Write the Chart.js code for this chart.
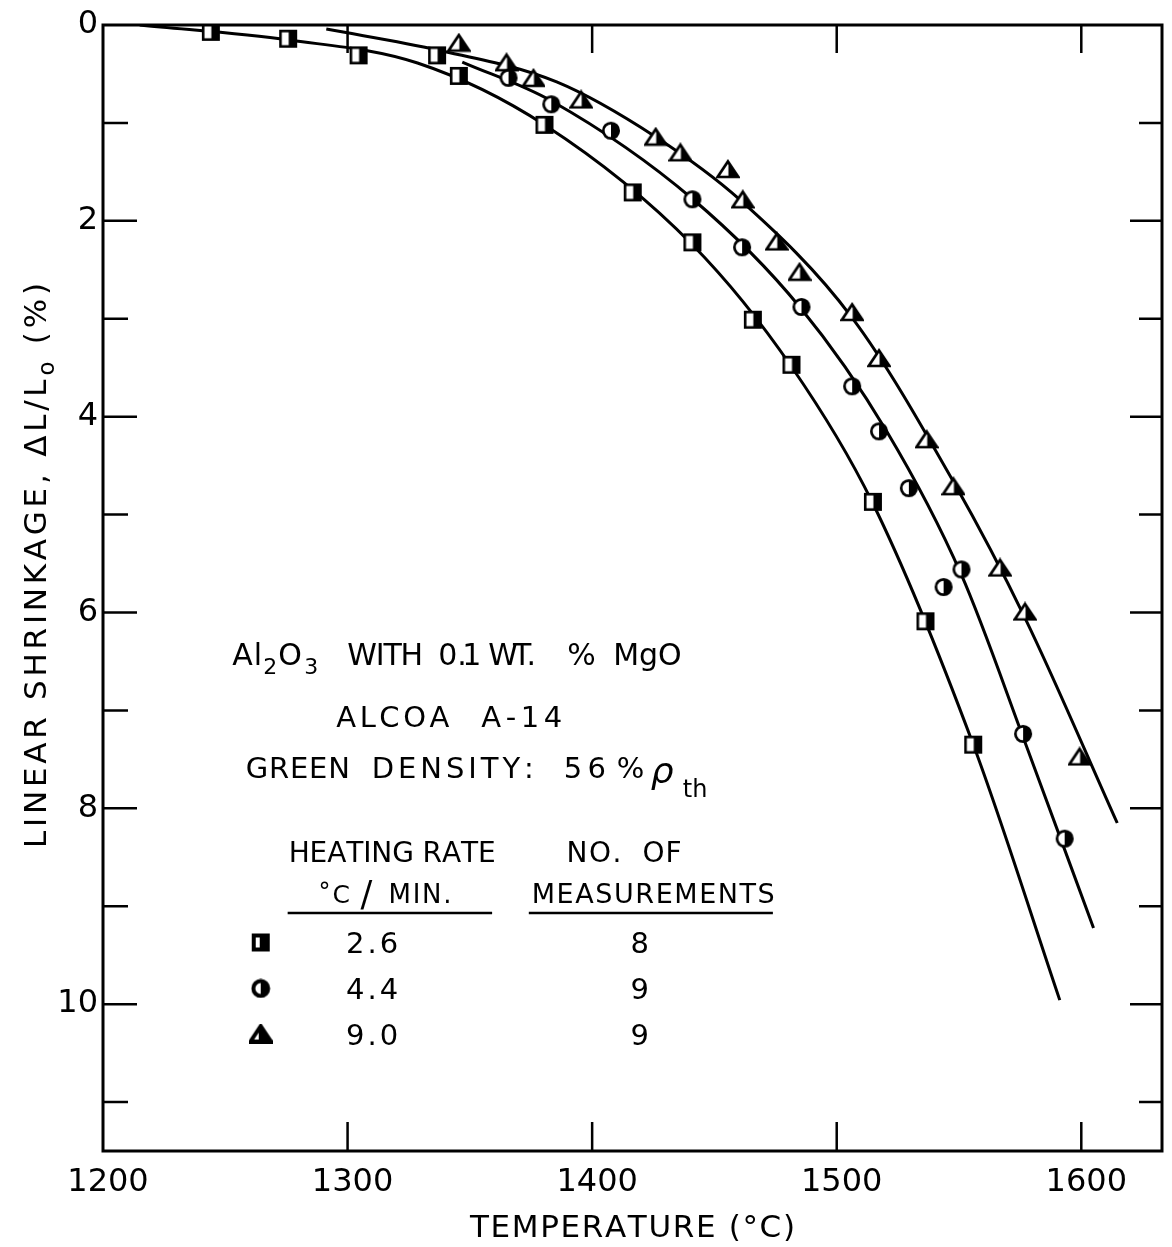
<!DOCTYPE html>
<html><head><meta charset="utf-8">
<script src="https://cdn.jsdelivr.net/npm/chart.js@4.4.0/dist/chart.umd.min.js"></script>
<style>html,body{margin:0;padding:0;background:#fff}canvas{display:block}</style>
</head><body>
<canvas id="c" width="1172" height="1247"></canvas>
<script>
// ---------- data ----------
const sqTemp   = [1244.1,1275.7,1304.5,1336.6,1345.5,1380.5,1416.6,1441.0,1465.7,1481.5,1514.8,1536.3,1555.8];
const sqShrink = [0.07,0.14,0.31,0.31,0.52,1.02,1.71,2.22,3.01,3.47,4.87,6.09,7.35];
const ciTemp   = [1365.8,1383.3,1407.7,1441.0,1461.3,1485.6,1506.3,1517.3,1529.5,1543.7,1551.0,1576.2,1593.2];
const ciShrink = [0.54,0.81,1.08,1.78,2.27,2.88,3.69,4.15,4.73,5.74,5.56,7.24,8.31];
const trTemp   = [1345.5,1365.0,1376.0,1395.5,1426.0,1436.1,1455.5,1461.6,1475.5,1484.8,1506.3,1517.3,1536.8,1547.7,1566.8,1577.0,1599.3];
const trShrink = [0.18,0.38,0.54,0.76,1.14,1.30,1.47,1.78,2.21,2.52,2.93,3.40,4.23,4.71,5.54,5.99,7.47];

// fitted curves
const sqCurveTemp   = [1215.0,1275.9,1328.6,1380.6,1441.1,1481.6,1514.5,1555.9,1591.2];
const sqCurveShrink = [0.00,0.153,0.388,1.021,2.247,3.493,4.872,7.354,9.959];
const ciCurveTemp   = [1346.9,1383.4,1441.1,1484.9,1520.6,1551.0,1577.4,1605.0];
const ciCurveShrink = [0.378,0.776,1.777,2.880,4.157,5.617,7.354,9.223];
const trCurveTemp   = [1291.3,1336.8,1385.5,1426.0,1460.5,1506.4,1547.8,1577.0,1614.7];
const trCurveShrink = [0.041,0.255,0.582,1.144,1.787,2.993,4.668,6.057,8.150];

const xTickLabels = [1200,1300,1400,1500,1600];
const xTickMarks  = [1300,1400,1500,1600];
const yTickLabels = [0,2,4,6,8,10];
const yTickMarks  = [1,2,3,4,5,6,7,8,9,10,11];
const legendRates  = ['2.6','4.4','9.0'];
const legendCounts = ['8','9','9'];
const xTitle = 'TEMPERATURE (°C)';
const FONT = '"DejaVu Sans"';

// ---------- marker images ----------
function mk(w,h,draw){const c=document.createElement('canvas');c.width=w;c.height=h;const g=c.getContext('2d');draw(g);return c;}
function sqDraw(g,lw,split){
  g.fillStyle='#fff';g.fillRect(2,2,16,16);
  g.fillStyle='#000';g.fillRect(split,2,18-split,16);
  g.strokeStyle='#000';g.lineWidth=lw;g.strokeRect(2+lw/2-1,2+lw/2-1,16-lw+2,16-lw+2);
}
function ciDraw(g,lw,r){
  g.beginPath();g.arc(10,10,r,0,Math.PI*2);g.fillStyle='#fff';g.fill();
  g.beginPath();g.arc(10,10,r,-Math.PI/2,Math.PI/2);g.closePath();g.fillStyle='#000';g.fill();
  g.beginPath();g.arc(10,10,r,0,Math.PI*2);g.lineWidth=lw;g.strokeStyle='#000';g.stroke();
}
function trDraw(g,lw,split){
  g.beginPath();g.moveTo(12,2.5);g.lineTo(22.3,18);g.lineTo(1.7,18);g.closePath();
  g.fillStyle='#fff';g.fill();
  g.beginPath();g.moveTo(12,2.5);g.lineTo(22.3,18);g.lineTo(split,18);g.lineTo(split,2.5);g.closePath();
  g.fillStyle='#000';g.fill();
  g.beginPath();g.moveTo(12,2.5);g.lineTo(22.3,18);g.lineTo(1.7,18);g.closePath();
  g.lineWidth=lw;g.lineJoin='miter';g.strokeStyle='#000';g.stroke();
}
const sqMark = mk(20,20,g=>sqDraw(g,2.6,10.5));
const ciMark = mk(20,20,g=>ciDraw(g,2.7,7.7));
const trMark = mk(24,20,g=>trDraw(g,2.7,12.5));
const sqLeg  = mk(20,20,g=>sqDraw(g,4,9));
const ciLeg  = mk(20,20,g=>ciDraw(g,4,7.4));
const trLeg  = mk(24,20,g=>trDraw(g,4,10));

// ---------- text helpers ----------
function cw(ctx,s){let w=0;for(const ch of s)w+=ctx.measureText(ch).width;return w;}
function spaced(ctx,s,x,y,sp){for(const ch of s){ctx.fillText(ch,x,y);x+=ctx.measureText(ch).width+sp;}return x;}
function txt(ctx,s,x,y,size,sp=0,style=''){ctx.font=`${style} ${size}px ${FONT}`;return spaced(ctx,s,x,y,sp);}
function fit(ctx,s,x,y,size,target,style=''){
  ctx.font=`${style} ${size}px ${FONT}`;
  const n=[...s].length;const nat=cw(ctx,s);
  const sp=n>1?(target-nat)/(n-1):0;return spaced(ctx,s,x,y,sp);
}
function richFit(ctx,runs,x,y,target){
  let nat=0,n=0;
  runs.forEach(r=>{ctx.font=`${r.size}px ${FONT}`;nat+=cw(ctx,r.t);n+=[...r.t].length;});
  const sp=(target-nat)/(n-1);
  runs.forEach(r=>{ctx.font=`${r.size}px ${FONT}`;x=spaced(ctx,r.t,x,y+(r.dy||0),sp);});
}

const deco = {
  id:'deco',
  beforeDraw(chart){const c=chart.ctx;c.save();c.fillStyle='#fff';c.fillRect(0,0,chart.width,chart.height);c.restore();},
  afterDraw(chart){
    const ctx=chart.ctx, a=chart.chartArea, xs=chart.scales.x, ys=chart.scales.y;
    const P=(t,s)=>[xs.getPixelForValue(t),ys.getPixelForValue(s)];
    ctx.save();
    ctx.strokeStyle='#000';ctx.fillStyle='#000';ctx.lineCap='butt';
    ctx.lineWidth=3;
    ctx.strokeRect(a.left,a.top,a.right-a.left,a.bottom-a.top);
    ctx.lineWidth=2.5;ctx.beginPath();
    yTickMarks.forEach(v=>{
      const py=ys.getPixelForValue(v);const len=(v%2===0)?34:25;
      ctx.moveTo(a.left,py);ctx.lineTo(a.left+len,py);
      ctx.moveTo(a.right,py);ctx.lineTo(a.right-len+2,py);
    });
    xTickMarks.forEach(v=>{
      const px=xs.getPixelForValue(v);
      ctx.moveTo(px,a.top);ctx.lineTo(px,a.top+28);
      ctx.moveTo(px,a.bottom);ctx.lineTo(px,a.bottom-29);
    });
    ctx.stroke();

    // axis titles
    ctx.textAlign='left';ctx.textBaseline='alphabetic';
    richFit(ctx,[{t:xTitle,size:31}],470,1237,325);
    ctx.save();ctx.translate(45.5,848);ctx.rotate(-Math.PI/2);
    richFit(ctx,[{t:'LINEAR SHRINKAGE, ΔL/L',size:31},{t:'o',size:23,dy:8},{t:' (%)',size:31}],0,0,565);
    ctx.restore();

    // annotation block
    let [x,y]=P(1252.8,6.54);
    txt(ctx,'Al',x,y,30,1);
    txt(ctx,'2',x+31,y+9,22);
    txt(ctx,'O',x+46,y,30);
    txt(ctx,'3',x+72,y+9,22);
    fit(ctx,'WITH',x+115,y,30,76);
    txt(ctx,'0',x+206,y,30);
    txt(ctx,'.',x+225,y,30);
    txt(ctx,'1',x+230,y,30);
    fit(ctx,'WT.',x+256,y,30,48);
    txt(ctx,'%',x+335,y,30);
    txt(ctx,'MgO',x+381,y,30,0);

    [x,y]=P(1295.4,7.17);
    fit(ctx,'ALCOA',x,y,29,113);
    fit(ctx,'A-14',x+145,y,29,81);

    [x,y]=P(1258.4,7.69);
    fit(ctx,'GREEN',x,y,29,104);
    fit(ctx,'DENSITY:',x+126,y,29,162);
    fit(ctx,'56',x+318,y,29,42);
    txt(ctx,'%',x+371,y,29);
    txt(ctx,'ρ',x+405,y+5,36,0,'italic');
    txt(ctx,'th',x+437,y+19,24,0);

    [x,y]=P(1275.9,8.55);
    fit(ctx,'HEATING RATE',x,y,28,207);
    [x,y]=P(1389.5,8.55);
    txt(ctx,'NO.',x,y,28,1.5);
    txt(ctx,'OF',x+76,y,28,1);

    [x,y]=P(1288.1,8.97);
    txt(ctx,'°',x,y-3,24);
    txt(ctx,'C',x+14,y,25);
    txt(ctx,'/',x+42,y+3,35);
    fit(ctx,'MIN.',x+70,y,26,63);
    [x,y]=P(1375.3,8.97);
    fit(ctx,'MEASUREMENTS',x,y,27,243);

    ctx.lineWidth=2.5;ctx.beginPath();
    let [u1a,uy]=P(1275.5,9.07);let [u1b]=P(1359.1,9.07);
    let [u2a]=P(1374.1,9.07);let [u2b]=P(1473.9,9.07);
    ctx.moveTo(u1a,uy);ctx.lineTo(u1b,uy);ctx.moveTo(u2a,uy);ctx.lineTo(u2b,uy);ctx.stroke();

    const legMarks=[sqLeg,ciLeg,trLeg];const rows=[9.37,9.84,10.30];
    rows.forEach((r,i)=>{
      const [mx,my]=P(1264.5,r);
      const m=legMarks[i];ctx.drawImage(m,mx-m.width/2,my-m.height/2);
      const [rx]=P(1299.4,r);
      fit(ctx,legendRates[i],rx,my+11,29,52);
      const [cx]=P(1419.5,r);
      ctx.font=`29px ${FONT}`;ctx.textAlign='center';ctx.fillText(legendCounts[i],cx,my+11);ctx.textAlign='left';
    });
    ctx.restore();
  }
};

function pts(xa,ya){return xa.map((v,i)=>({x:v,y:ya[i]}));}
const curve=(xa,ya)=>({type:'line',data:pts(xa,ya),showLine:true,borderColor:'#000',borderWidth:3,pointRadius:0,
  cubicInterpolationMode:'monotone',fill:false,order:2});
const marks=(xa,ya,img)=>({type:'scatter',data:pts(xa,ya),pointStyle:img,pointRadius:9,showLine:false,order:0});

new Chart(document.getElementById('c'),{
  type:'scatter',
  data:{datasets:[
    marks(sqTemp,sqShrink,sqMark),
    marks(ciTemp,ciShrink,ciMark),
    marks(trTemp,trShrink,trMark),
    curve(sqCurveTemp,sqCurveShrink),
    curve(ciCurveTemp,ciCurveShrink),
    curve(trCurveTemp,trCurveShrink)
  ]},
  options:{
    responsive:false,animation:false,events:[],
    layout:{padding:{top:25,right:2,left:0,bottom:0}},
    plugins:{legend:{display:false},tooltip:{enabled:false}},
    scales:{
      x:{type:'linear',min:1200,max:1633,afterFit(s){s.height=96;},
         grid:{display:false,drawTicks:false},border:{display:false},
         ticks:{stepSize:100,includeBounds:false,autoSkip:false,maxRotation:0,padding:12,labelOffset:5,color:'#000',
                font:{family:'DejaVu Sans',size:32},
                callback:v=>xTickLabels.includes(v)?String(v):''}},
      y:{type:'linear',reverse:true,min:0,max:11.5,afterFit(s){s.width=103;},
         grid:{display:false,drawTicks:false},border:{display:false},
         ticks:{stepSize:1,includeBounds:false,autoSkip:false,padding:5,color:'#000',
                font:{family:'DejaVu Sans',size:32},
                callback:v=>yTickLabels.includes(v)?String(v):''}}
    }
  },
  plugins:[deco]
});
</script>
</body></html>
